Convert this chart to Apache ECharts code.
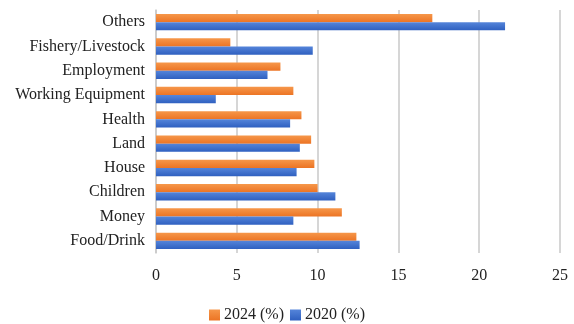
<!DOCTYPE html>
<html>
<head>
<meta charset="utf-8">
<script src="https://cdn.jsdelivr.net/npm/echarts@6/dist/echarts.min.js"></script>
<style>
  html, body { margin: 0; padding: 0; background: #fff; }
  #chart { width: 574px; height: 324px; }
</style>
</head>
<body>
<div id="chart"></div>
<script>
// categories listed top to bottom
const categories = ['Others', 'Fishery/Livestock', 'Employment', 'Working Equipment', 'Health', 'Land', 'House', 'Children', 'Money', 'Food/Drink']
const values2024 = [17.1, 4.6, 7.7, 8.5, 9.0, 9.6, 9.8, 10.0, 11.5, 12.4]
const values2020 = [21.6, 9.7, 6.9, 3.7, 8.3, 8.9, 8.7, 11.1, 8.5, 12.6]
const xTicks = [0, 5, 10, 15, 20, 25]

const fontFamily = '"Liberation Serif", "DejaVu Serif", serif'

const grad = (top, bottom) => new echarts.graphic.LinearGradient(0, 0, 0, 1, [
    { offset: 0, color: top },
    { offset: 1, color: bottom }
])

const myChart = echarts.init(document.getElementById('chart'))
const option = {
    animation: false,
    textStyle: { fontFamily: fontFamily },
    grid: {
        left: 156,
        right: 14,
        top: 10,
        bottom: 71
    },
    legend: {
        bottom: 1,
        padding: 0,
        left: 'center',
        itemWidth: 11,
        itemHeight: 11,
        itemGap: 6,
        icon: 'rect',
        textStyle: { fontFamily: fontFamily, fontSize: 16, color: '#222', padding: [0, 0, 0, -1] },
        data: ['2024 (%)', '2020 (%)']
    },
    xAxis: {
        type: 'value',
        min: xTicks[0],
        max: xTicks[xTicks.length - 1],
        interval: 5,
        axisLine: { show: false },
        axisTick: { show: false },
        axisLabel: { color: '#222', fontSize: 16, margin: 15, fontFamily: fontFamily },
        splitLine: { show: true, lineStyle: { color: '#C8C8C8', width: 1.5 } }
    },
    yAxis: {
        type: 'category',
        inverse: true,
        data: categories,
        axisLine: { show: true, lineStyle: { color: '#C8C8C8', width: 1.5 } },
        axisTick: { show: false },
        axisLabel: { color: '#222', fontSize: 16, margin: 11, fontFamily: fontFamily }
    },
    series: [
        {
            name: '2024 (%)',
            type: 'bar',
            data: values2024,
            barWidth: 8.2,
            barGap: '0%',
            itemStyle: { color: grad('#F6974A', '#EC7424') }
        },
        {
            name: '2020 (%)',
            type: 'bar',
            data: values2020,
            barWidth: 8.2,
            barGap: '0%',
            itemStyle: { color: grad('#5585DA', '#2F60C0') }
        }
    ]
}
myChart.setOption(option)
</script>
</body>
</html>
